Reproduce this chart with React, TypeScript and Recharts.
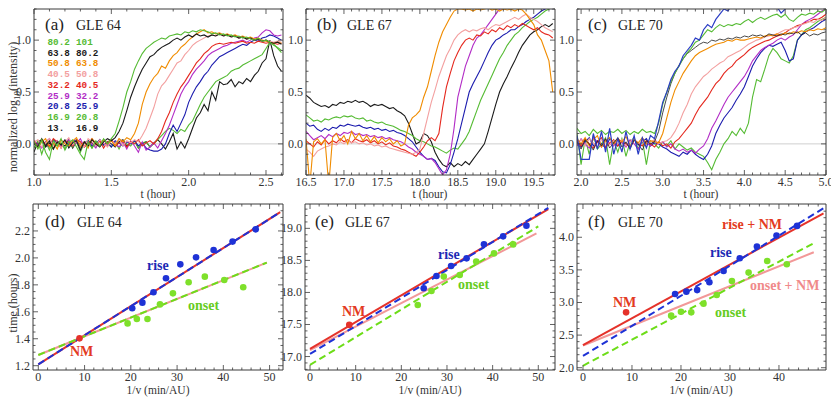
import React from 'react';
import { LineChart, ComposedChart, Line, XAxis, YAxis, ReferenceLine, Scatter } from 'recharts';

const SERIF = '"Liberation Serif", "Times New Roman", serif';
const MONO = '"Liberation Mono", "DejaVu Sans Mono", monospace';

const COL = {
  green: '#55bb33', black: '#1a1a1a', orange: '#f08c00', pink: '#f3a0a0', red: '#e5281e',
  magenta: '#b22cc6', blue: '#1c1cae', navy: '#2a3cc4',
};
const FIT = { red: '#e5322a', blue: '#1e32d6', green: '#6ddd18', pink: '#f29898' };

// ---------- panel (a) GLE 64 ----------
const tA = [1,1.025,1.05,1.075,1.1,1.125,1.15,1.175,1.2,1.225,1.25,1.275,1.3,1.325,1.35,1.375,1.4,1.425,1.45,1.475,1.5,1.525,1.55,1.575,1.6,1.625,1.65,1.675,1.7,1.725,1.75,1.775,1.8,1.825,1.85,1.875,1.9,1.925,1.95,1.975,2,2.025,2.05,2.075,2.1,2.125,2.15,2.175,2.2,2.225,2.25,2.275,2.3,2.325,2.35,2.375,2.4,2.425,2.45,2.475,2.5,2.525,2.55,2.575,2.6];
const gA1 = [0.02,-0.05,0.04,-0.08,-0.15,0.03,-0.02,0.05,-0.06,0.01,0.04,-0.03,-0.1,-0.15,0.02,-0.04,0.03,-0.02,0.05,0.0,0.05,0.1,0.22,0.35,0.5,0.6,0.72,0.8,0.87,0.92,0.95,0.98,1.0,1.02,1.01,1.04,1.05,1.06,1.05,1.08,1.07,1.09,1.08,1.1,1.09,1.08,1.06,1.07,1.05,1.06,1.04,1.05,1.03,1.04,1.02,1.03,1.01,1.0,1.02,0.99,1.0,0.98,0.95,0.93,0.9];
const kA1 = [0.0,-0.03,0.05,-0.02,0.03,-0.05,0.02,-0.01,0.04,-0.04,0.01,0.03,-0.06,0.02,-0.02,0.04,0.0,-0.03,0.02,0.05,0.03,0.06,0.12,0.2,0.32,0.45,0.55,0.64,0.72,0.78,0.84,0.86,0.9,0.93,0.95,0.97,1.0,1.02,1.0,1.03,1.05,1.03,1.06,1.04,1.05,1.03,1.05,1.04,1.06,1.04,1.05,1.03,1.04,1.02,1.03,1.01,1.02,1.0,1.01,0.99,1.0,0.98,0.97,0.98,0.96];
const oA = [0.03,-0.04,0.02,0.05,-0.03,0.01,-0.05,0.04,0.0,-0.02,0.03,0.06,-0.03,0.02,-0.04,0.05,0.01,-0.02,0.04,0.0,0.03,-0.02,0.05,0.02,0.06,0.04,0.1,0.2,0.38,0.5,0.58,0.64,0.68,0.75,0.73,0.8,0.85,0.88,0.93,0.96,1.0,1.03,1.06,1.08,1.1,1.07,1.08,1.06,1.07,1.05,1.06,1.04,1.05,1.03,1.04,1.02,1.03,1.01,1.02,1.0,0.99,0.98,0.97,0.98,0.97];
const pA = [0.02,0.04,-0.03,0.01,0.05,-0.02,0.03,-0.04,0.02,0.06,-0.01,0.03,0.0,-0.03,0.05,0.02,-0.02,0.04,0.01,-0.03,0.03,0.0,0.05,-0.02,0.03,0.01,0.04,0.02,0.08,0.15,0.25,0.35,0.48,0.56,0.6,0.66,0.72,0.78,0.8,0.86,0.9,0.95,0.98,1.0,1.02,1.04,1.05,1.04,1.06,1.04,1.05,1.03,1.04,1.02,1.03,1.01,1.02,1.0,1.01,0.99,1.0,0.99,0.98,0.99,0.98];
const rA = [0.01,-0.03,0.04,0.0,-0.02,0.05,0.02,-0.04,0.03,0.01,-0.02,0.04,0.02,-0.03,0.0,0.05,-0.01,0.03,-0.04,0.02,0.04,-0.02,0.01,0.03,-0.03,0.02,0.0,0.04,-0.02,0.01,0.03,0.0,0.05,0.12,0.22,0.3,0.4,0.48,0.55,0.6,0.66,0.72,0.78,0.82,0.87,0.9,0.94,0.96,0.97,0.96,0.97,0.98,0.97,0.98,0.99,0.97,0.98,0.97,0.99,0.98,0.97,0.98,0.97,0.96,0.97];
const mA = [0.03,0.0,-0.04,0.02,0.05,-0.01,0.03,-0.03,0.02,0.04,-0.02,0.01,0.05,-0.03,0.02,0.0,-0.04,0.03,0.01,-0.02,0.04,0.0,-0.03,0.02,-0.05,0.03,-0.02,-0.08,0.02,-0.06,-0.03,0.01,-0.04,0.03,0.1,0.18,0.28,0.38,0.48,0.55,0.6,0.67,0.72,0.76,0.8,0.85,0.88,0.9,0.92,0.94,0.95,0.97,0.98,0.99,1.0,0.98,1.0,1.02,1.03,1.07,1.1,1.09,1.05,1.04,1.05];
const bA = [0.02,-0.02,0.03,0.0,-0.03,0.04,0.01,-0.02,0.03,-0.01,0.02,0.04,-0.03,0.01,0.03,-0.02,0.0,0.04,-0.01,0.02,-0.03,0.03,0.01,-0.02,0.02,0.0,0.03,-0.02,0.01,-0.04,-0.06,-0.07,-0.07,-0.05,0.0,0.1,0.18,0.12,0.2,0.28,0.4,0.48,0.55,0.6,0.66,0.7,0.76,0.8,0.84,0.86,0.88,0.9,0.92,0.94,0.96,0.95,0.98,1.0,0.99,1.02,1.03,1.05,1.04,1.02,1.0];
const gA2 = [-0.04,0.03,-0.1,0.02,-0.06,0.04,-0.02,0.01,-0.05,0.03,-0.03,0.02,-0.08,0.01,0.03,-0.04,0.02,-0.02,0.04,0.0,-0.03,0.02,-0.05,0.03,0.0,-0.02,0.03,-0.04,0.01,0.02,-0.03,0.0,0.04,0.08,0.12,0.15,0.13,0.1,0.14,0.12,0.18,0.22,0.3,0.38,0.45,0.5,0.55,0.6,0.62,0.64,0.66,0.7,0.72,0.73,0.76,0.78,0.8,0.82,0.84,0.86,0.92,0.98,0.96,0.92,0.88];
const kA2 = [-0.08,0.02,0.04,-0.03,0.01,-0.05,0.03,0.0,-0.02,0.04,-0.04,0.02,0.0,-0.03,0.03,0.01,-0.02,0.04,-0.01,0.02,0.0,-0.03,0.02,0.04,-0.02,0.01,0.03,-0.04,0.0,0.02,-0.03,0.01,0.04,0.0,-0.05,0.02,0.1,-0.05,0.02,-0.04,0.05,0.15,0.25,0.3,0.38,0.32,0.5,0.42,0.6,0.57,0.58,0.62,0.55,0.6,0.58,0.63,0.6,0.66,0.7,0.78,0.82,1.0,0.85,0.75,0.7];

// ---------- panel (b) GLE 67 ----------
const tB = [16.5,16.55,16.6,16.65,16.7,16.75,16.8,16.85,16.9,16.95,17,17.05,17.1,17.15,17.2,17.25,17.3,17.35,17.4,17.45,17.5,17.55,17.6,17.65,17.7,17.75,17.8,17.85,17.9,17.95,18,18.05,18.1,18.15,18.2,18.25,18.3,18.35,18.4,18.45,18.5,18.55,18.6,18.65,18.7,18.75,18.8,18.85,18.9,18.95,19,19.05,19.1,19.15,19.2,19.25,19.3,19.35,19.4,19.45,19.5,19.55,19.6,19.65,19.7,19.75];
const kB = [0.47,0.44,0.4,0.38,0.36,0.37,0.35,0.38,0.37,0.4,0.39,0.41,0.4,0.42,0.4,0.41,0.39,0.36,0.38,0.37,0.38,0.36,0.34,0.35,0.32,0.3,0.27,0.2,0.1,0.0,0.02,0.1,0.08,0.02,-0.08,-0.15,-0.2,-0.22,-0.18,-0.22,-0.19,-0.21,-0.17,-0.2,-0.15,-0.1,-0.05,0.0,0.12,0.25,0.38,0.5,0.58,0.65,0.73,0.8,0.88,0.95,1.0,1.05,1.08,1.1,1.13,1.15,1.13,1.16];
const gB = [0.28,0.25,0.22,0.23,0.21,0.24,0.23,0.25,0.26,0.25,0.27,0.26,0.27,0.25,0.24,0.25,0.22,0.23,0.21,0.2,0.21,0.19,0.18,0.17,0.15,0.13,0.12,0.1,0.08,0.05,0.03,0.02,0.0,-0.02,-0.03,-0.05,-0.07,-0.09,-0.06,-0.04,-0.05,0.0,0.05,0.12,0.22,0.32,0.42,0.5,0.58,0.66,0.74,0.82,0.88,0.95,1.0,1.05,1.08,1.12,1.15,1.18,1.2,1.22,1.25,1.28,1.3,1.32];
const bB = [0.2,0.17,0.18,0.14,0.12,0.15,0.13,0.16,0.15,0.18,0.17,0.19,0.18,0.17,0.18,0.16,0.15,0.16,0.14,0.15,0.13,0.14,0.12,0.13,0.11,0.1,0.08,0.05,0.02,-0.03,-0.08,-0.12,-0.15,-0.14,-0.16,-0.22,-0.27,-0.28,-0.2,-0.08,0.05,0.2,0.35,0.5,0.58,0.65,0.72,0.8,0.88,0.95,1.0,1.02,1.05,1.07,1.1,1.1,1.13,1.15,1.18,1.2,1.22,1.25,1.28,1.3,1.32,1.3];
const mB = [0.12,0.08,0.04,0.06,0.08,0.05,0.09,0.07,0.1,0.08,0.11,0.1,0.12,0.09,0.1,0.08,0.09,0.07,0.08,0.06,0.07,0.05,0.06,0.04,0.03,0.02,0.0,-0.03,-0.05,-0.08,-0.1,-0.12,-0.15,-0.14,-0.18,-0.24,-0.3,-0.25,-0.1,0.15,0.45,0.6,0.75,0.85,0.95,1.02,1.05,1.1,1.15,1.2,1.25,1.3,1.3,1.32,1.35,1.35,1.36,1.35,1.38,1.36,1.38,1.36,1.35,1.38,1.36,1.35];
const rB = [0.03,0.0,-0.03,0.02,-0.01,0.04,0.0,0.03,0.01,0.05,0.02,0.04,0.01,0.05,0.03,0.02,0.04,0.01,0.03,0.0,0.02,-0.01,0.01,-0.02,-0.03,-0.05,-0.06,-0.08,-0.1,-0.12,-0.08,-0.03,0.03,0.06,0.03,0.1,0.35,0.55,0.68,0.8,0.88,0.95,1.0,1.02,1.0,1.05,1.04,1.08,1.06,1.1,1.08,1.12,1.1,1.14,1.12,1.15,1.13,1.16,1.14,1.12,1.1,1.12,1.08,1.06,1.05,1.02];
const pB = [-0.05,-0.08,-0.12,-0.07,-0.05,-0.03,-0.02,0.0,-0.01,0.02,0.0,0.03,0.01,0.02,0.0,0.01,-0.01,0.0,-0.02,-0.01,-0.03,-0.02,-0.04,-0.05,-0.06,-0.07,-0.08,-0.09,-0.1,-0.08,-0.05,0.1,0.25,0.4,0.52,0.65,0.75,0.85,0.92,1.0,1.05,1.08,1.1,1.08,1.1,1.09,1.11,1.12,1.1,1.13,1.15,1.14,1.16,1.18,1.2,1.22,1.2,1.23,1.25,1.22,1.2,1.18,1.15,1.12,1.1,1.08];
const oB = [0.05,-0.4,0.02,0.05,0.0,0.04,-0.4,0.06,0.1,0.03,0.08,0.0,0.12,0.05,0.1,0.03,0.08,0.02,0.07,0.01,0.06,0.02,0.05,0.0,0.03,-0.02,0.0,0.18,0.25,0.28,0.32,0.45,0.55,0.7,0.85,0.98,1.08,1.15,1.22,1.28,1.3,1.3,1.29,1.3,1.28,1.3,1.29,1.3,1.31,1.29,1.3,1.28,1.3,1.29,1.3,1.28,1.3,1.29,1.25,1.2,1.15,1.05,1.0,0.9,0.8,0.5];

// ---------- panel (c) GLE 70 ----------
const tC = [1.95,2,2.05,2.1,2.15,2.2,2.25,2.3,2.35,2.4,2.45,2.5,2.55,2.6,2.65,2.7,2.75,2.8,2.85,2.9,2.95,3,3.05,3.1,3.15,3.2,3.25,3.3,3.35,3.4,3.45,3.5,3.55,3.6,3.65,3.7,3.75,3.8,3.85,3.9,3.95,4,4.05,4.1,4.15,4.2,4.25,4.3,4.35,4.4,4.45,4.5,4.55,4.6,4.65,4.7,4.75,4.8,4.85,4.9,4.95,5];
const nC1 = [0.08,-0.15,-0.15,-0.15,0.1,-0.05,0.12,-0.08,0.15,-0.1,0.05,-0.08,0.12,-0.05,0.08,-0.1,0.06,-0.04,0.08,0.05,0.22,0.4,0.5,0.62,0.7,0.75,0.85,0.9,0.95,1.02,1.0,1.1,1.15,1.12,1.2,1.25,1.3,1.28,1.35,1.4,1.38,1.4,1.4,1.38,1.42,1.4,1.38,1.4,1.42,1.32,1.26,1.3,1.36,1.4,1.42,1.4,1.38,1.4,1.42,1.4,1.38,1.4];
const gC1 = [0.15,0.1,0.12,0.08,0.14,0.1,0.13,0.09,0.12,0.11,0.14,0.1,0.13,0.09,0.12,0.1,0.14,0.11,0.12,0.1,0.2,0.38,0.5,0.6,0.68,0.75,0.82,0.88,0.92,0.98,1.0,1.05,1.1,1.08,1.12,1.15,1.13,1.15,1.14,1.16,1.15,1.18,1.2,1.17,1.2,1.22,1.2,1.22,1.24,1.25,1.22,1.25,1.2,1.18,1.22,1.25,1.24,1.26,1.25,1.28,1.27,1.3];
const kC1 = [0.02,-0.05,0.04,0.0,-0.06,0.03,-0.02,0.05,-0.04,0.01,0.06,-0.03,0.02,-0.05,0.04,0.0,-0.06,0.03,0.0,0.02,0.12,0.3,0.45,0.58,0.68,0.76,0.82,0.87,0.9,0.93,0.96,0.98,0.97,1.0,0.99,1.01,1.0,1.02,1.01,1.03,1.02,1.04,1.03,1.05,1.04,1.05,1.03,1.06,1.05,1.04,1.06,1.05,1.07,1.06,1.08,1.05,1.07,1.04,1.06,1.05,1.07,1.08];
const oC = [0.05,0.0,0.06,-0.02,0.04,0.08,-0.03,0.03,0.06,0.0,0.05,0.02,0.07,-0.02,0.04,0.01,0.06,0.0,0.03,0.02,0.01,0.1,0.25,0.4,0.52,0.6,0.68,0.74,0.8,0.85,0.88,0.9,0.92,0.94,0.96,0.97,0.98,1.0,0.99,1.01,1.0,1.0,1.01,1.02,1.03,1.02,1.04,1.05,1.04,1.06,1.05,1.07,1.06,1.08,1.07,1.09,1.08,1.1,1.09,1.11,1.1,1.12];
const pC = [0.0,0.04,-0.02,0.05,0.01,-0.03,0.04,0.02,-0.01,0.03,0.0,0.04,-0.02,0.02,0.05,0.0,0.03,-0.01,0.02,0.04,0.0,0.02,0.03,0.06,0.12,0.2,0.3,0.38,0.48,0.55,0.6,0.65,0.68,0.72,0.75,0.78,0.8,0.84,0.86,0.88,0.9,0.93,0.96,0.98,1.0,1.01,1.03,1.04,1.05,1.06,1.08,1.1,1.1,1.12,1.13,1.15,1.16,1.18,1.17,1.2,1.19,1.22];
const rC = [0.03,-0.02,0.05,0.0,-0.04,0.02,0.06,-0.03,0.01,0.04,-0.02,0.03,0.0,-0.03,0.04,0.01,-0.02,0.03,0.0,-0.03,0.02,-0.02,0.0,-0.04,0.02,0.05,0.1,0.15,0.2,0.28,0.35,0.4,0.45,0.52,0.58,0.62,0.68,0.72,0.75,0.8,0.83,0.86,0.9,0.93,0.95,0.97,0.99,1.0,1.02,1.04,1.05,1.07,1.1,1.12,1.14,1.15,1.17,1.18,1.2,1.2,1.22,1.25];
const mC = [-0.02,0.05,0.0,-0.04,0.06,0.02,-0.03,0.04,0.0,-0.02,0.05,0.01,-0.03,0.04,0.0,-0.05,0.03,0.01,-0.02,0.04,0.0,0.02,-0.03,0.0,-0.05,-0.07,-0.05,-0.08,-0.06,-0.09,-0.05,-0.02,0.05,0.15,0.22,0.3,0.38,0.45,0.5,0.55,0.6,0.65,0.72,0.8,0.85,0.9,0.93,0.95,0.97,1.0,1.02,1.0,1.03,1.05,1.1,1.15,1.18,1.2,1.22,1.25,1.28,1.3];
const bC2 = [0.04,-0.03,0.02,0.06,-0.02,0.03,0.0,-0.04,0.05,0.01,-0.02,0.03,0.0,-0.03,0.04,-0.01,0.02,0.05,-0.02,0.01,0.0,-0.03,-0.05,-0.08,-0.1,-0.12,-0.08,-0.1,-0.06,-0.1,-0.13,-0.15,-0.1,-0.02,0.1,0.18,0.25,0.3,0.35,0.42,0.48,0.55,0.65,0.75,0.82,0.88,0.92,0.95,0.94,0.96,0.98,0.9,0.8,0.82,1.0,1.05,1.08,1.1,1.12,1.15,1.18,1.2];
const gC2 = [0.1,-0.2,0.05,-0.1,0.08,-0.05,0.0,0.06,-0.2,0.03,-0.08,0.05,-0.12,0.02,0.06,-0.05,0.04,-0.2,0.03,0.0,-0.04,0.02,-0.02,0.03,-0.05,0.0,-0.03,-0.06,-0.04,-0.08,-0.1,-0.12,-0.18,-0.25,-0.15,-0.08,0.0,0.05,0.12,0.08,0.15,0.1,0.2,0.45,0.62,0.6,0.72,0.85,0.92,0.88,0.82,0.8,0.78,0.85,1.0,1.05,1.1,1.12,1.15,1.18,1.2,1.22];

// ---------- legend of (a) ----------
const legendLo = ['80.2', '63.8', '50.8', '40.5', '32.2', '25.9', '20.8', '16.9', '13.'];
const legendHi = ['101', '80.2', '63.8', '50.8', '40.5', '32.2', '25.9', '20.8', '16.9'];
const legendCol = [COL.green, COL.black, COL.orange, COL.pink, COL.red, COL.magenta, COL.blue, COL.green, COL.black];

// ---------- panel (d) GLE 64 ----------
const riseXd = [20.3, 22.5, 24.9, 27.6, 30.7, 34.1, 37.9, 42.0, 47.0];
const riseYd = [1.626, 1.668, 1.745, 1.849, 1.952, 2.004, 2.059, 2.121, 2.212];
const onsetXd = [19.3, 21.3, 23.6, 26.3, 29.1, 32.5, 36.0, 40.2, 44.3];
const onsetYd = [1.514, 1.547, 1.547, 1.655, 1.737, 1.819, 1.861, 1.836, 1.782];
const nmXd = [8.9]; const nmYd = [1.403];
const riseFitXd = [0, 52.3]; const riseFitYd = [1.21, 2.339];
const onsetFitXd = [0, 49.4]; const onsetFitYd = [1.279, 1.965];

// ---------- panel (e) GLE 67 ----------
const riseXe = [24.9, 27.7, 30.9, 34.3, 38.1, 42.3, 47.4];
const riseYe = [18.065, 18.257, 18.413, 18.532, 18.751, 18.875, 19.042];
const onsetXe = [23.6, 26.6, 29.3, 32.8, 36.4, 40.3, 44.5];
const onsetYe = [17.805, 18.023, 18.247, 18.273, 18.481, 18.61, 18.75];
const nmXe = [8.6]; const nmYe = [17.494];
const riseNmFitXe = [0, 52.2]; const riseNmFitYe = [17.12, 19.3];
const riseFitXe = [0, 52.2]; const riseFitYe = [17.04, 19.32];
const onsetNmFitXe = [0, 49.6]; const onsetNmFitYe = [17.1, 18.92];
const onsetFitXe = [0, 50.0]; const onsetFitYe = [16.87, 19.03];

// ---------- panel (f) GLE 70 ----------
const riseXf = [18.8, 21.1, 23.3, 25.8, 28.7, 32.0, 35.5, 39.5, 43.7];
const riseYf = [3.13, 3.166, 3.19, 3.31, 3.483, 3.678, 3.857, 4.026, 4.174];
const onsetXf = [18.0, 20.0, 22.1, 24.6, 27.3, 30.4, 33.8, 37.6, 41.6];
const onsetYf = [2.798, 2.859, 2.849, 2.982, 3.115, 3.33, 3.458, 3.637, 3.586];
const nmXf = [8.8]; const nmYf = [2.849];
const riseNmFitXf = [0, 49.1]; const riseNmFitYf = [2.348, 4.368];
const riseFitXf = [0, 49.1]; const riseFitYf = [2.18, 4.445];
const onsetNmFitXf = [0, 47.1]; const onsetNmFitYf = [2.34, 3.77];
const onsetFitXf = [0, 47.1]; const onsetFitYf = [2.03, 3.91];

// ---------- helpers ----------
const pts = (xs: number[], ys: number[]) => xs.map((x, i) => ({ x, y: ys[i] }));
const tickList = (a: number, b: number, s: number) => {
  const out: number[] = [];
  const n = Math.round((b - a) / s);
  for (let i = 0; i <= n; i++) out.push(Math.round((a + i * s) * 10000) / 10000);
  return out;
};
const AX = { stroke: '#3a3a3a', strokeWidth: 1 };

const mkTick = (side: string, major: number, digits: number, label: boolean, dyLabel = 11.5) => (p: any) => {
  const { x, y, payload } = p;
  const v = payload.value as number;
  const q = v / major;
  const isMajor = Math.abs(q - Math.round(q)) < 1e-6;
  const L = isMajor ? 5 : 2.5;
  let x2 = x, y2 = y;
  if (side === 'bottom') y2 = y - L;
  if (side === 'top') y2 = y + L;
  if (side === 'left') x2 = x + L;
  if (side === 'right') x2 = x - L;
  return (
    <g>
      <line x1={x} y1={y} x2={x2} y2={y2} stroke="#3a3a3a" strokeWidth={0.8} />
      {label && isMajor && side === 'bottom' && (
        <text x={x} y={y + dyLabel} textAnchor="middle" fontSize={12} fontFamily={SERIF} fill="#333">{v.toFixed(digits)}</text>
      )}
      {label && isMajor && side === 'left' && (
        <text x={x - 3} y={y + 4} textAnchor="end" fontSize={12} fontFamily={SERIF} fill="#333">{v.toFixed(digits)}</text>
      )}
    </g>
  );
};

const yTicksTop = tickList(-0.3, 1.3, 0.1);

type Series = { data: number[]; color: string; width?: number };

function TimePanel(props: any) {
  const { left, width, yW, rW, xDomain, xTicks, times, series } = props;
  const rows = times.map((t: number, i: number) => {
    const r: any = { t };
    series.forEach((s: Series, k: number) => { r['s' + k] = s.data[i]; });
    return r;
  });
  const common = { type: 'number' as const, allowDataOverflow: true, interval: 0 as const, tickLine: false, tickSize: 0, tickMargin: 0, axisLine: AX };
  return (
    <div style={{ position: 'absolute', left, top: 0 }}>
      <LineChart width={width} height={200} data={rows} margin={{ top: 0, right: 0, bottom: 0, left: 0 }}>
        <XAxis {...common} dataKey="t" domain={xDomain} ticks={xTicks} height={25} tick={mkTick('bottom', 0.5, 1, true, 11)} />
        <XAxis {...common} xAxisId="top" orientation="top" dataKey="t" domain={xDomain} ticks={xTicks} height={9} tick={mkTick('top', 0.5, 1, false)} />
        <YAxis {...common} domain={[-0.3, 1.3]} ticks={yTicksTop} width={yW} tick={mkTick('left', 0.5, 1, true)} />
        <YAxis {...common} yAxisId="right" orientation="right" domain={[-0.3, 1.3]} ticks={yTicksTop} width={rW} tick={mkTick('right', 0.5, 1, false)} />
        <ReferenceLine y={0} stroke="#cfcfcf" strokeWidth={1} />
        {series.map((s: Series, k: number) => (
          <Line key={k} dataKey={'s' + k} stroke={s.color} strokeWidth={s.width || 1.1} dot={false} isAnimationActive={false} />
        ))}
      </LineChart>
    </div>
  );
}

type FitLine = { data: { x: number; y: number }[]; color: string; dash?: string; width?: number };
type Dots = { data: { x: number; y: number }[]; color: string };

function FitPanel(props: any) {
  const { left, width, yW, rW, xDomain, yDomain, xTicks, yTicks, yMajor, lines, dots } = props;
  const common = { type: 'number' as const, allowDataOverflow: true, interval: 0 as const, tickLine: false, tickSize: 0, tickMargin: 0, axisLine: AX };
  return (
    <div style={{ position: 'absolute', left, top: 195 }}>
      <ComposedChart width={width} height={202} margin={{ top: 0, right: 0, bottom: 0, left: 0 }}>
        <XAxis {...common} dataKey="x" domain={xDomain} ticks={xTicks} height={27} tick={mkTick('bottom', 10, 0, true, 11)} />
        <XAxis {...common} xAxisId="top" orientation="top" dataKey="x" domain={xDomain} ticks={xTicks} height={9} tick={mkTick('top', 10, 0, false)} />
        <YAxis {...common} domain={yDomain} ticks={yTicks} width={yW} tick={mkTick('left', yMajor, 1, true)} />
        <YAxis {...common} yAxisId="right" orientation="right" domain={yDomain} ticks={yTicks} width={rW} tick={mkTick('right', yMajor, 1, false)} />
        {lines.map((l: FitLine, k: number) => (
          <Line key={'l' + k} data={l.data} dataKey="y" stroke={l.color} strokeWidth={l.width || 2} strokeDasharray={l.dash} dot={false} isAnimationActive={false} />
        ))}
        {dots.map((d: Dots, k: number) => (
          <Scatter key={'d' + k} data={d.data} dataKey="y" fill={d.color} isAnimationActive={false}
            shape={(p: any) => <circle cx={p.cx} cy={p.cy} r={3.3} fill={d.color} />} />
        ))}
      </ComposedChart>
    </div>
  );
}

const T = (x: number, y: number, s: string, o: any = {}) => (
  <text x={x} y={y} fontFamily={SERIF} fontSize={12} fill="#333" {...o}>{s}</text>
);

export default function App() {
  const seriesA: Series[] = [
    { data: kA2, color: COL.black }, { data: gA2, color: COL.green }, { data: bA, color: COL.blue },
    { data: mA, color: COL.magenta }, { data: rA, color: COL.red }, { data: pA, color: COL.pink },
    { data: oA, color: COL.orange }, { data: kA1, color: COL.black }, { data: gA1, color: COL.green },
  ];
  const seriesB: Series[] = [
    { data: kB, color: COL.black }, { data: gB, color: COL.green }, { data: bB, color: COL.blue },
    { data: mB, color: COL.magenta }, { data: rB, color: COL.red }, { data: pB, color: COL.pink },
    { data: oB, color: COL.orange },
  ];
  const seriesC: Series[] = [
    { data: gC2, color: COL.green }, { data: bC2, color: COL.blue }, { data: mC, color: COL.magenta },
    { data: rC, color: COL.red }, { data: pC, color: COL.pink }, { data: oC, color: COL.orange },
    { data: kC1, color: COL.black, width: 0.8 }, { data: gC1, color: COL.green }, { data: nC1, color: COL.navy, width: 1.2 },
  ];
  const xTicksFit = tickList(0, 52, 2);
  const titleBig = { fontSize: 17, fill: '#222' };
  const titleSmall = { fontSize: 14, fill: '#222' };
  const bold = (c: string) => ({ fontSize: 14, fontWeight: 'bold', fill: c });
  const axTitle = { textAnchor: 'middle', fontSize: 11.5 };
  return (
    <div style={{ position: 'absolute', left: 0, top: 0, width: 831, height: 397, background: '#fff', overflow: 'hidden' }}>
      <TimePanel left={0} width={290} yW={34} rW={7} xDomain={[1.0, 2.61]} xTicks={tickList(1.0, 2.6, 0.1)} times={tA} series={seriesA} />
      <TimePanel left={280} width={280} yW={26} rW={5} xDomain={[16.5, 19.78]} xTicks={tickList(16.5, 19.7, 0.1)} times={tB} series={seriesB} />
      <TimePanel left={550} width={281} yW={27} rW={5} xDomain={[1.95, 5.0]} xTicks={tickList(2.0, 5.0, 0.1)} times={tC} series={seriesC} />

      <FitPanel left={0} width={290} yW={33} rW={7} xDomain={[-1.15, 52.9]} yDomain={[1.168, 2.4]}
        xTicks={xTicksFit} yTicks={tickList(1.2, 2.35, 0.05)} yMajor={0.2}
        lines={[
          { data: pts(riseFitXd, riseFitYd), color: FIT.red },
          { data: pts(onsetFitXd, onsetFitYd), color: FIT.pink },
          { data: pts(riseFitXd, riseFitYd), color: FIT.blue, dash: '7 4' },
          { data: pts(onsetFitXd, onsetFitYd), color: FIT.green, dash: '7 4' },
        ]}
        dots={[
          { data: pts(riseXd, riseYd), color: FIT.blue },
          { data: pts(onsetXd, onsetYd), color: '#7ee02a' },
          { data: pts(nmXd, nmYd), color: FIT.red },
        ]} />
      <FitPanel left={280} width={280} yW={25} rW={5} xDomain={[-1.1, 53.66]} yDomain={[16.79, 19.38]}
        xTicks={xTicksFit} yTicks={tickList(16.8, 19.3, 0.1)} yMajor={0.5}
        lines={[
          { data: pts(onsetNmFitXe, onsetNmFitYe), color: FIT.pink },
          { data: pts(riseNmFitXe, riseNmFitYe), color: FIT.red },
          { data: pts(onsetFitXe, onsetFitYe), color: FIT.green, dash: '7 4' },
          { data: pts(riseFitXe, riseFitYe), color: FIT.blue, dash: '7 4' },
        ]}
        dots={[
          { data: pts(riseXe, riseYe), color: FIT.blue },
          { data: pts(onsetXe, onsetYe), color: '#7ee02a' },
          { data: pts(nmXe, nmYe), color: FIT.red },
        ]} />
      <FitPanel left={550} width={281} yW={27} rW={5} xDomain={[-1.22, 49.6]} yDomain={[1.965, 4.51]}
        xTicks={tickList(0, 48, 2)} yTicks={tickList(2.0, 4.4, 0.1)} yMajor={0.5}
        lines={[
          { data: pts(onsetNmFitXf, onsetNmFitYf), color: FIT.pink },
          { data: pts(riseNmFitXf, riseNmFitYf), color: FIT.red },
          { data: pts(onsetFitXf, onsetFitYf), color: FIT.green, dash: '7 4' },
          { data: pts(riseFitXf, riseFitYf), color: FIT.blue, dash: '7 4' },
        ]}
        dots={[
          { data: pts(riseXf, riseYf), color: FIT.blue },
          { data: pts(onsetXf, onsetYf), color: '#7ee02a' },
          { data: pts(nmXf, nmYf), color: FIT.red },
        ]} />

      <svg width={831} height={397} style={{ position: 'absolute', left: 0, top: 0, pointerEvents: 'none' }}>
        {/* panel titles */}
        {T(45, 30, '(a)', titleBig)}{T(76, 30, 'GLE 64', titleSmall)}
        {T(317, 30, '(b)', titleBig)}{T(347, 30, 'GLE 67', titleSmall)}
        {T(588, 30, '(c)', titleBig)}{T(618, 30, 'GLE 70', titleSmall)}
        {T(45, 227, '(d)', titleBig)}{T(77, 227, 'GLE 64', titleSmall)}
        {T(315, 227, '(e)', titleBig)}{T(345, 227, 'GLE 67', titleSmall)}
        {T(588, 227, '(f)', titleBig)}{T(618, 227, 'GLE 70', titleSmall)}

        {/* legend of (a) */}
        {legendLo.map((s, i) => (
          <g key={i}>
            <text x={47.5} y={45 + i * 10.7} fontFamily={MONO} fontWeight="bold" fontSize={9.3} fill={legendCol[i]}>{s}</text>
            <text x={76} y={45 + i * 10.7} fontFamily={MONO} fontWeight="bold" fontSize={9.3} fill={legendCol[i]}>{legendHi[i]}</text>
          </g>
        ))}

        {/* axis titles */}
        {T(158, 197.5, 't (hour)', axTitle)}
        {T(430, 197.5, 't (hour)', axTitle)}
        {T(701, 197.5, 't (hour)', axTitle)}
        {T(158, 394, '1/v (min/AU)', axTitle)}
        {T(430, 394, '1/v (min/AU)', axTitle)}
        {T(701, 394, '1/v (min/AU)', axTitle)}
        <text x={17} y={107} transform="rotate(-90 17 107)" textAnchor="middle" fontFamily={SERIF} fontSize={12} fill="#333">
          normalized log<tspan dy={3} fontSize={9}>10</tspan><tspan dy={-3}>(intensity)</tspan>
        </text>
        <text x={17} y={303} transform="rotate(-90 17 303)" textAnchor="middle" fontFamily={SERIF} fontSize={12} fill="#333">time (hours)</text>

        {/* annotations (d) */}
        {T(147, 270, 'rise', bold('#1c2ab4'))}
        {T(188, 310, 'onset', bold('#66cc22'))}
        {T(70, 356, 'NM', bold('#e33a22'))}
        {/* annotations (e) */}
        {T(438, 259, 'rise', bold('#1c2ab4'))}
        {T(458, 289, 'onset', bold('#66cc22'))}
        {T(342, 316, 'NM', bold('#e33a22'))}
        {/* annotations (f) */}
        {T(722, 229, 'rise + NM', bold('#e33a22'))}
        {T(710, 257, 'rise', bold('#1c2ab4'))}
        {T(750, 290, 'onset + NM', bold('#f08a8a'))}
        {T(715, 317, 'onset', bold('#66cc22'))}
        {T(613, 307, 'NM', bold('#e33a22'))}
      </svg>
    </div>
  );
}
